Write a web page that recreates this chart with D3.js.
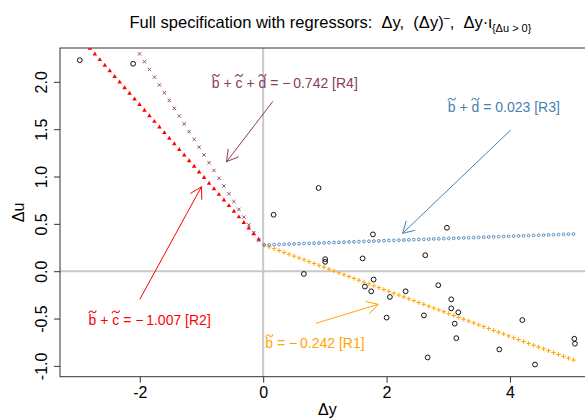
<!DOCTYPE html>
<html><head><meta charset="utf-8">
<script src="https://cdn.jsdelivr.net/npm/d3@7"></script>
<style>
body{margin:0;background:#fff}
svg{display:block}
text{font-family:"Liberation Sans",Arial,Helvetica,sans-serif;white-space:pre}
</style>
</head><body>
<svg id="c" width="585" height="419"></svg>
<script>
// ---- data ----
const ptX = [0.898,0.169,1.779,2.978,1.005,1.005,1.612,2.627,0.660,1.790,1.649,1.751,2.309,2.838,2.054,3.048,3.048,3.162,2.001,2.606,3.104,3.130,4.200,3.827,2.666,4.406,5.043,5.054,-2.972,-2.108];
const ptY = [0.879,0.596,0.389,0.459,0.127,0.099,0.135,0.169,-0.029,-0.088,-0.162,-0.212,-0.212,-0.148,-0.272,-0.297,-0.392,-0.434,-0.490,-0.466,-0.554,-0.707,-0.516,-0.826,-0.911,-0.985,-0.713,-0.766,2.228,2.190];
const xTicks = [-2,0,2,4];
const yTicks = [-1,-0.5,0,0.5,1,1.5,2];
const lineNames = ["R1","R2","R3","R4"];
const lineX0 = [0.016,-2.97,0.016,-2.97];
const lineX1 = [5.03,-0.072,5.03,-0.072];
const lineY0 = [0.277,2.47,0.277,3.28];
const lineY1 = [-0.938,0.335,0.393,0.325];
const lineSteps = [62,36,62,36];
const lineLetters = [["b"],["b","c"],["b","d"],["b","c","d"]];
const lineCoef = ["-0.242","-1.007","0.023","-0.742"];
const lineColors = ["#FFA500","#FF0000","#4682B4","#8B3A62"];
const lineSymbols = ["plus","triangle","circle","cross"];
// annotation placement (data units): label centre, arrow start, arrow end
const annLabelX = [0.84,-1.84,3.90,0.35];
const annLabelY = [-0.76,-0.51,1.737,1.987];
const annFromX = [0.855,-2.0,4.012,0.157];
const annFromY = [-0.55,-0.297,1.491,1.793];
const annToX = [1.865,-1.0,2.26,-0.594];
const annToY = [-0.35,0.892,0.40,1.156];

// ---- layout ----
const svg = d3.select("#c");
const L = 60, R = 594.8, T = 48, B = 376.7;
const x = d3.scaleLinear().domain([-3.293,5.375]).range([L,R]);
const y = d3.scaleLinear().domain([-1.114,2.357]).range([B,T]);

svg.append("defs").append("clipPath").attr("id","clip")
  .append("rect").attr("x",L).attr("y",T).attr("width",R-L).attr("height",B-T);

// reference lines
svg.append("line").attr("x1",x(0)).attr("x2",x(0)).attr("y1",T).attr("y2",B)
  .attr("stroke","#C8C8C8").attr("stroke-width",2);
svg.append("line").attr("x1",L).attr("x2",R).attr("y1",y(0)).attr("y2",y(0))
  .attr("stroke","#C8C8C8").attr("stroke-width",2);

// axes
const xAx = svg.append("g").attr("transform",`translate(0,${B})`)
  .call(d3.axisBottom(x).tickValues(xTicks).tickSize(6).tickSizeOuter(0).tickFormat(d=>String(d)));
xAx.select(".domain").remove();
xAx.selectAll("text").attr("font-size",16).attr("font-family",null).attr("dy",null).attr("y",21);
xAx.selectAll("line").attr("stroke","#333");

const yAx = svg.append("g").attr("transform",`translate(${L},0)`)
  .call(d3.axisLeft(y).tickValues(yTicks).tickSize(6).tickSizeOuter(0).tickFormat(d=>d.toFixed(1)));
yAx.select(".domain").remove();
yAx.selectAll("line").attr("stroke","#333");
yAx.selectAll("text").attr("font-size",16).attr("font-family",null)
  .attr("x",null).attr("dy",null).attr("text-anchor","middle")
  .attr("transform","translate(-13,0) rotate(-90)");

svg.append("rect").attr("x",L).attr("y",T).attr("width",R-L).attr("height",B-T)
  .attr("fill","none").attr("stroke","#333").attr("stroke-width",1);

// axis titles
svg.append("text").attr("x",(L+R)/2).attr("y",415).attr("text-anchor","middle")
  .attr("font-size",16).text("Δy");
svg.append("text").attr("transform",`translate(24,${(T+B)/2}) rotate(-90)`)
  .attr("text-anchor","middle").attr("font-size",16).text("Δu");

// title
const tt = svg.append("text").attr("x",(L+R)/2+3).attr("y",28).attr("text-anchor","middle").attr("font-size",16.5);
tt.append("tspan").text("Full specification with regressors:  Δy,  (Δy)");
tt.append("tspan").attr("font-size",11).attr("dy",-7).text("\u2013");
tt.append("tspan").attr("dy",7).text(",  Δy·ι");
tt.append("tspan").attr("font-size",11).attr("dy",4).text("{Δu > 0}");

// fitted lines drawn with symbols
const plot = svg.append("g").attr("clip-path","url(#clip)");
lineNames.forEach((nm,i)=>{
  const n = lineSteps[i];
  const g = plot.append("g");
  const xs = x(lineX0[i]), xe = x(lineX1[i]), ys = y(lineY0[i]), ye = y(lineY1[i]);
  d3.range(n+1).forEach(k=>{
    const px = xs + (xe-xs)*k/n, py = ys + (ye-ys)*k/n;
    const c = lineColors[i];
    if (lineSymbols[i]==="plus") {
      g.append("path").attr("d",`M${px-2.3},${py}H${px+2.3}M${px},${py-2.3}V${py+2.3}`)
        .attr("stroke",c).attr("stroke-width",1);
    } else if (lineSymbols[i]==="cross") {
      g.append("path").attr("d",`M${px-1.7},${py-1.7}L${px+1.7},${py+1.7}M${px-1.7},${py+1.7}L${px+1.7},${py-1.7}`)
        .attr("stroke",c).attr("stroke-width",0.9);
    } else if (lineSymbols[i]==="circle") {
      g.append("circle").attr("cx",px).attr("cy",py).attr("r",1.4)
        .attr("fill","none").attr("stroke",c).attr("stroke-width",0.9);
    } else {
      g.append("path").attr("d",d3.symbol(d3.symbolTriangle,9)())
        .attr("transform",`translate(${px},${py})`).attr("fill",c);
    }
  });
});

// data points
svg.append("g").selectAll("circle").data(ptX.map((v,i)=>[v,ptY[i]])).join("circle")
  .attr("cx",d=>x(d[0])).attr("cy",d=>y(d[1])).attr("r",2.4)
  .attr("fill","none").attr("stroke","#111").attr("stroke-width",1);

// annotations
function arrow(x1,y1,x2,y2,color){
  const g = svg.append("g").attr("stroke",color).attr("stroke-width",1).attr("fill","none");
  g.append("line").attr("x1",x1).attr("y1",y1).attr("x2",x2).attr("y2",y2);
  const a = Math.atan2(y1-y2,x1-x2), len = 13, sp = Math.PI/6;
  g.append("path").attr("d",
    `M${x2+len*Math.cos(a+sp)},${y2+len*Math.sin(a+sp)}L${x2},${y2}L${x2+len*Math.cos(a-sp)},${y2+len*Math.sin(a-sp)}`);
}
function label(cx,cy,letters,coef,name,color){
  const fs = 14;
  const g = svg.append("g").attr("fill",color);
  const tx = g.append("text").attr("x",0).attr("y",0).attr("font-size",fs);
  const parts = [];
  letters.forEach((ch,k)=>{
    if (k>0) tx.append("tspan").text(" + ");
    parts.push(tx.append("tspan").text(ch));
  });
  const val = coef.startsWith("-") ? "\u2212\u2009"+coef.slice(1) : coef;
  tx.append("tspan").text(" = "+val+" ["+name+"]");
  const w = tx.node().getComputedTextLength();
  // tildes over the letters (drawn as small curves)
  parts.forEach(p=>{
    const bb = p.node().getBBox();
    const mx = bb.x + bb.width/2, my = -fs*0.9, hw = fs*0.27, hh = fs*0.1;
    g.append("path")
      .attr("d",`M${mx-hw},${my+hh}C${mx-hw*0.6},${my-hh*1.4} ${mx-hw*0.2},${my-hh*0.6} ${mx},${my} S${mx+hw*0.6},${my+hh*1.4} ${mx+hw},${my-hh}`)
      .attr("fill","none").attr("stroke",color).attr("stroke-width",1.1);
  });
  g.attr("transform",`translate(${cx-w/2},${cy+fs*0.36})`);
}
lineNames.forEach((nm,i)=>{
  arrow(x(annFromX[i]),y(annFromY[i]),x(annToX[i]),y(annToY[i]),lineColors[i]);
  label(x(annLabelX[i]),y(annLabelY[i]),lineLetters[i],lineCoef[i],nm,lineColors[i]);
});
</script>
</body></html>
